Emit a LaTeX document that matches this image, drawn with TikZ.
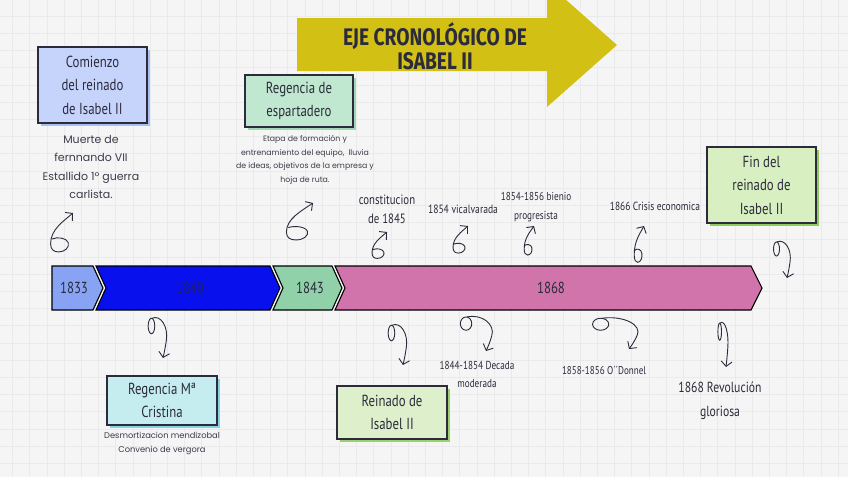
\documentclass[tikz,border=0pt]{standalone}
\usepackage{fontspec}
\setmainfont{Poppins}
\newfontfamily\handf[FakeStretch=0.8]{PT Sans}
\newfontfamily\titlef[FakeStretch=0.8]{Fira Sans}
\usetikzlibrary{arrows.meta,shadows}
\definecolor{bgc}{HTML}{F5F5F5}
\definecolor{gridc}{HTML}{EAEAEA}
\definecolor{ink}{HTML}{2B2B3B}
\definecolor{titley}{HTML}{D3C014}
\definecolor{segA}{HTML}{88A3F4}
\definecolor{segB}{HTML}{0810EE}
\definecolor{segC}{HTML}{90D1A9}
\definecolor{segD}{HTML}{D074AB}
\definecolor{navy}{HTML}{1B2070}
\definecolor{boxA}{HTML}{C6D4FC}\definecolor{shA}{HTML}{A7BFF6}
\definecolor{boxB}{HTML}{C0E7D0}\definecolor{shB}{HTML}{9FD8B5}
\definecolor{boxC}{HTML}{D8EFC2}\definecolor{shC}{HTML}{8DCB5B}
\definecolor{boxD}{HTML}{C5ECEF}\definecolor{shD}{HTML}{7FD6E0}
\definecolor{boxE}{HTML}{DEF0CB}\definecolor{shE}{HTML}{99D06A}
\tikzset{
  hbox/.style={draw=ink, line width=1.1pt, align=center, text=ink, inner sep=0pt,
    font=\handf\fontsize{16}{23.5}\selectfont},
  shad/.style={drop shadow={shadow xshift=3pt, shadow yshift=-3pt, fill=#1, opacity=1}},
  desc/.style={align=center, text=ink!92, inner sep=0pt},
  lbl/.style={align=center, text=ink, inner sep=0pt},
  seg/.style={draw=black, line width=1.1pt, line join=miter},
  curv/.style={draw=ink, line width=0.9pt},
  curlup/.pic={\draw[curv, {Straight Barb[length=5pt,width=11pt]}-] (0,0) .. controls (-6,-7) and (-14,-14) .. (-14,-26) .. controls (-14,-31) and (-12,-33) .. (-9,-33) .. controls (-5,-33) and (-2,-29) .. (-3,-25) .. controls (-4,-21) and (-10,-20) .. (-13,-22);},
  curldown/.pic={\draw[curv] (-10.5,33) ellipse [x radius=3, y radius=8];
    \draw[curv, -{Straight Barb[length=5pt,width=11pt]}] (-10,41) .. controls (-2,45) and (5,32) .. (3,18) .. controls (2,10) and (1,5) .. (0,0);}
}
\begin{document}
\begin{tikzpicture}[x=1pt,y=1pt]
\useasboundingbox (0,0) rectangle (848,-477);
\clip (0,0) rectangle (848,-477);
\fill[bgc] (0,0) rectangle (848,-477);
\foreach \i in {0,...,49} {\draw[gridc, line width=0.8pt] (12.5+17.2*\i,0) -- ++(0,-477);}
\foreach \i in {0,...,28} {\draw[gridc, line width=0.8pt] (0,-16.1-17.2*\i) -- ++(848,0);}

% title arrow
\fill[titley] (297,-18) -- (547,-18) -- (547,17) -- (617,-45) -- (547,-107) -- (547,-71) -- (297,-71) -- cycle;
\node[lbl, font=\titlef\bfseries\fontsize{24}{24}\selectfont] (title) at (435,-46) {EJE CRONOLÓGICO DE\\ISABEL II};

% timeline bar
\filldraw[seg, fill=segA] (52,-266) -- (93,-266) -- (103,-288) -- (93,-310) -- (52,-310) -- cycle;
\filldraw[seg, fill=segB] (96,-266) -- (270,-266) -- (280,-288) -- (270,-310) -- (96,-310) -- (106,-288) -- cycle;
\filldraw[seg, fill=segC] (273,-266) -- (332,-266) -- (342,-288) -- (332,-310) -- (273,-310) -- (283,-288) -- cycle;
\filldraw[seg, fill=segD] (335,-266) -- (751,-266) -- (762,-288) -- (751,-310) -- (335,-310) -- (345,-288) -- cycle;
\node[lbl, font=\handf\fontsize{16}{16}\selectfont] (y1833) at (74,-288) {1833};
\node[lbl, text=navy, font=\handf\fontsize{16}{16}\selectfont] (y1840) at (190,-288) {1840};
\node[lbl, font=\handf\fontsize{16}{16}\selectfont] (y1843) at (310,-288) {1843};
\node[lbl, font=\handf\fontsize{16}{16}\selectfont] (y1868) at (551,-288) {1868};

% boxes
\node[hbox, fill=boxA, shad=shA, minimum width=109pt, minimum height=76pt] (comienzo) at (92.5,-85) {Comienzo\\del reinado\\de Isabel II};
\node[hbox, fill=boxB, shad=shB, minimum width=108pt, minimum height=52pt] (esparta) at (299,-101) {Regencia de\\espartadero};
\node[hbox, fill=boxC, shad=shC, minimum width=109pt, minimum height=76pt] (fin) at (761.5,-185) {Fin del\\reinado de\\Isabel II};
\node[hbox, fill=boxD, shad=shD, minimum width=110pt, minimum height=49pt] (regencia) at (162,-400.5) {Regencia Mª\\Cristina};
\node[hbox, fill=boxE, shad=shE, minimum width=110pt, minimum height=53pt] (reinado) at (392,-412.5) {Reinado de\\Isabel II};

% descriptions
\node[desc, font=\fontsize{11}{18.3}\selectfont] (muerte) at (91,-167) {Muerte de\\fernnando VII\\Estallido 1º guerra\\carlista.};
\node[desc, font=\fontsize{7.8}{13.6}\selectfont] (etapa) at (305,-160) {Etapa de formación y\\entrenamiento del equipo,\ \ lluvia\\de ideas, objetivos de la empresa y\\hoja de ruta.};
\node[desc, font=\fontsize{8.3}{14}\selectfont] (desam) at (162,-443) {Desmortizacion mendizobal\\Convenio de vergora};

% event labels
\node[lbl, font=\handf\fontsize{13.5}{19.5}\selectfont] (const) at (387,-209.5) {constitucion\\de 1845};
\node[lbl, font=\handf\fontsize{12}{12}\selectfont] (vical) at (463,-209) {1854 vicalvarada};
\node[lbl, font=\handf\fontsize{11.5}{19.5}\selectfont] (bienio) at (536,-207) {1854-1856 bienio\\progresista};
\node[lbl, font=\handf\fontsize{11.8}{11.8}\selectfont] (crisis) at (655,-206) {1866 Crisis economica};
\node[lbl, font=\handf\fontsize{11.5}{18}\selectfont] (decada) at (477,-374) {1844-1854 Decada\\moderada};
\node[lbl, font=\handf\fontsize{11.3}{11.3}\selectfont] (odonnel) at (604,-370) {1858-1856 O´´Donnel};
\node[lbl, font=\handf\fontsize{14.6}{24}\selectfont] (revol) at (720,-401) {1868 Revolución\\gloriosa};

% curly arrows
\path (73,-213) pic[xscale=1.6, yscale=1.18] {curlup};
\path (313,-203) pic[xscale=1.9, yscale=1.12] {curlup};
\path (387,-232) pic[xscale=1.07, yscale=0.8] {curlup};
\path (468,-226) pic[xscale=1.07, yscale=0.82] {curlup};
\path (534,-226) pic[xscale=0.7, yscale=0.88] {curlup};
\path (644,-226) pic[xscale=0.7, yscale=1.1] {curlup};
\path (163,-358) pic[xscale=1.1, yscale=0.97] {curldown};
\path (403,-365) pic[xscale=1.1, yscale=0.97] {curldown};
\path (486,-351) pic[xscale=1.9, yscale=0.83] {curldown};
\path (629,-349) pic[xscale=2.7, yscale=0.75] {curldown};
\path (726,-367) pic[xscale=0.6, yscale=1.07] {curldown};
\path (787,-278) pic[xscale=1.0, yscale=0.88] {curldown};
\end{tikzpicture}
\end{document}
